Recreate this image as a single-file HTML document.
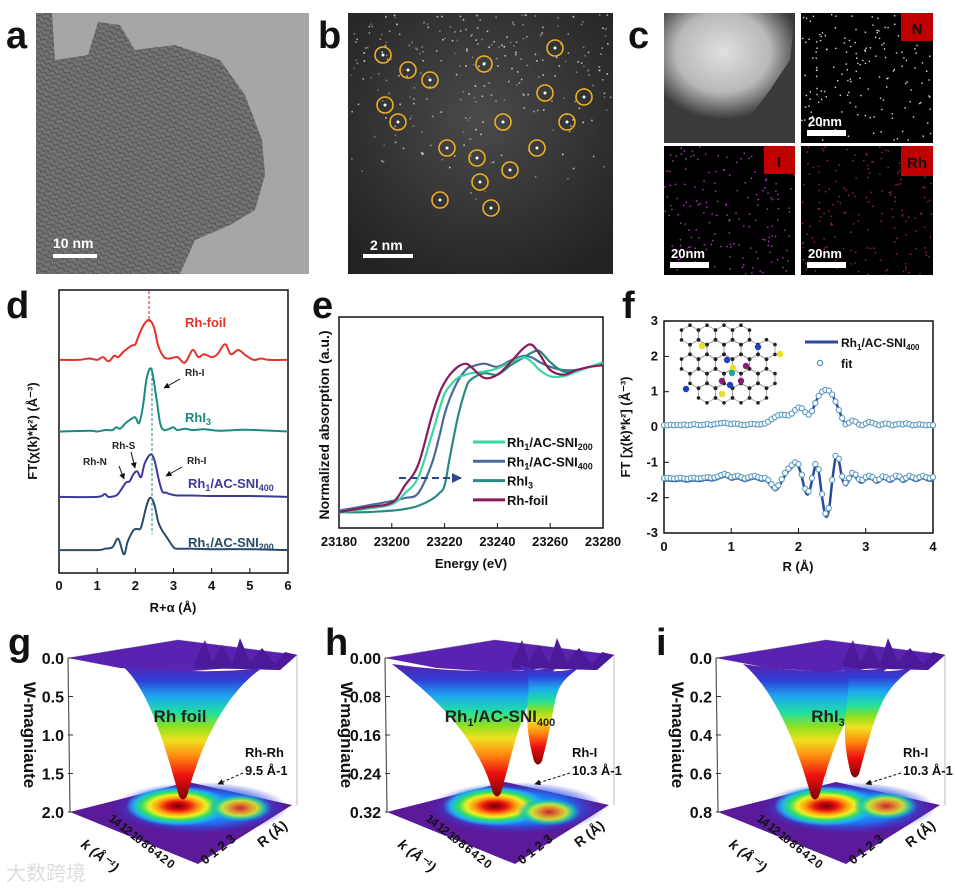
<!DOCTYPE html>
<html><head><meta charset="utf-8"><style>
html,body{margin:0;padding:0;background:#fff;}
svg{display:block;font-family:"Liberation Sans",Arial,sans-serif;}
.lbl{font-weight:bold;font-size:38px;fill:#111;}
.tk{font-weight:bold;font-size:13px;fill:#111;}
.ax{font-weight:bold;font-size:13px;fill:#111;}
</style></head><body>
<svg id="fig" width="955" height="891" viewBox="0 0 955 891" xmlns="http://www.w3.org/2000/svg">
<defs>
<radialGradient id="bgB" cx="0.5" cy="0.4" r="0.7"><stop offset="0" stop-color="#4a4a4a"/><stop offset="0.7" stop-color="#2e2e2e"/><stop offset="1" stop-color="#222"/></radialGradient>
<radialGradient id="bgC" cx="0.45" cy="0.35" r="0.6"><stop offset="0" stop-color="#e0e0e0"/><stop offset="0.6" stop-color="#b8b8b8"/><stop offset="1" stop-color="#3a3a3a"/></radialGradient>
<pattern id="tex" width="7" height="5" patternUnits="userSpaceOnUse" patternTransform="rotate(25)"><path d="M0 2.5 Q1.75 0.5 3.5 2.5 T7 2.5" stroke="#3a3a3a" stroke-width="1.1" fill="none"/></pattern>
<pattern id="tex2" width="9" height="6" patternUnits="userSpaceOnUse" patternTransform="rotate(-40)"><path d="M0 3 Q2.25 1 4.5 3 T9 3" stroke="#555" stroke-width="0.9" fill="none"/></pattern>
<marker id="arr" viewBox="0 0 10 10" refX="9" refY="5" markerWidth="6" markerHeight="6" orient="auto"><path d="M0 0 L10 5 L0 10 z" fill="#111"/></marker>
<marker id="arrB" viewBox="0 0 10 10" refX="9" refY="5" markerWidth="5" markerHeight="5" orient="auto"><path d="M0 0 L10 5 L0 10 z" fill="#2a4a8a"/></marker>
<radialGradient id="floorC" cx="0.5" cy="0.5" r="0.5">
<stop offset="0" stop-color="#6a0000"/><stop offset="0.22" stop-color="#e81010"/><stop offset="0.4" stop-color="#ff9a10"/><stop offset="0.55" stop-color="#f0f020"/><stop offset="0.7" stop-color="#30e060"/><stop offset="0.85" stop-color="#20b0f0"/><stop offset="1" stop-color="#20b0f0" stop-opacity="0"/></radialGradient>
<radialGradient id="floorS" cx="0.5" cy="0.5" r="0.5">
<stop offset="0" stop-color="#e81010"/><stop offset="0.35" stop-color="#ffa010"/><stop offset="0.55" stop-color="#e0f020"/><stop offset="0.75" stop-color="#20d0a0"/><stop offset="1" stop-color="#2090f0" stop-opacity="0"/></radialGradient>
<radialGradient id="floorB" cx="0.5" cy="0.5" r="0.5">
<stop offset="0" stop-color="#20c8f0"/><stop offset="0.6" stop-color="#2070f0"/><stop offset="1" stop-color="#3a30d0" stop-opacity="0"/></radialGradient>
</defs>

<!-- Panel a -->
<g>
<rect x="36" y="13" width="273" height="261" fill="#a6a6a6"/>
<path d="M36 13 L52 13 L55 60 L88 55 L98 22 L120 25 L135 50 L175 45 L220 60 L245 95 L262 140 L265 175 L255 210 L230 225 L195 240 L180 274 L36 274 Z" fill="#747474"/>
<path d="M36 13 L52 13 L55 60 L88 55 L98 22 L120 25 L135 50 L175 45 L220 60 L245 95 L262 140 L265 175 L255 210 L230 225 L195 240 L180 274 L36 274 Z" fill="url(#tex)" opacity="0.55"/>
<path d="M36 13 L52 13 L55 60 L88 55 L98 22 L120 25 L135 50 L175 45 L220 60 L245 95 L262 140 L265 175 L255 210 L230 225 L195 240 L180 274 L36 274 Z" fill="url(#tex2)" opacity="0.45"/>
<text x="6" y="48" class="lbl">a</text>
<text x="53" y="248" font-size="14" font-weight="bold" fill="#fff">10 nm</text>
<rect x="53" y="254" width="44" height="4" fill="#fff"/>
</g>

<!-- Panel b -->
<g>
<rect x="348" y="13" width="265" height="261" fill="url(#bgB)"/>
<g id="bspeck"></g>
<g id="bcircles" fill="none" stroke="#f0b020" stroke-width="1.6"></g>
<text x="318" y="48" class="lbl">b</text>
<text x="370" y="250" font-size="14" font-weight="bold" fill="#fff">2 nm</text>
<rect x="363" y="254" width="50" height="4" fill="#fff"/>
</g>

<!-- Panel c -->
<g>
<rect x="664" y="13" width="131" height="130" fill="#3a3a3a"/>
<path d="M664 13 L795 13 L790 60 L770 90 L755 110 L735 125 L700 120 L664 110 Z" fill="url(#bgC)"/>
<rect x="801" y="13" width="132" height="130" fill="#000"/>
<rect x="664" y="146" width="131" height="129" fill="#000"/>
<rect x="801" y="146" width="132" height="129" fill="#000"/>
<g id="cdots"></g>
<rect x="901" y="13" width="32" height="28" fill="#c00000"/>
<text x="917" y="34" text-anchor="middle" font-size="15" font-weight="bold" fill="#111">N</text>
<rect x="764" y="146" width="31" height="28" fill="#c00000"/>
<text x="779" y="167" text-anchor="middle" font-size="15" font-weight="bold" fill="#111">I</text>
<rect x="901" y="146" width="32" height="30" fill="#c00000"/>
<text x="917" y="168" text-anchor="middle" font-size="15" font-weight="bold" fill="#111">Rh</text>
<text x="808" y="126" font-size="13" font-weight="bold" fill="#fff">20nm</text><rect x="807" y="130" width="39" height="6" fill="#fff"/>
<text x="671" y="258" font-size="13" font-weight="bold" fill="#fff">20nm</text><rect x="670" y="262" width="39" height="6" fill="#fff"/>
<text x="808" y="258" font-size="13" font-weight="bold" fill="#fff">20nm</text><rect x="807" y="262" width="39" height="6" fill="#fff"/>
<text x="628" y="48" class="lbl">c</text>
</g>

<!-- Panel d -->
<g id="panelD">
<text x="6" y="318" class="lbl">d</text>
<rect x="59" y="290" width="229" height="283" fill="none" stroke="#111" stroke-width="1.5"/>
<text x="173" y="612" text-anchor="middle" class="ax">R+α (Å)</text>
<text transform="translate(37,431) rotate(-90)" text-anchor="middle" class="ax">FT(χ(k)*k²) (Å⁻³)</text>
<g id="dTicks"></g><g id="dLines"></g>
<line x1="149" y1="291" x2="149" y2="322" stroke="#d02020" stroke-dasharray="3,2"/>
<line x1="152" y1="368" x2="152" y2="534" stroke="#1a8a80" stroke-dasharray="3,2"/>
<text x="185" y="327" font-size="13" font-weight="bold" fill="#e8302a">Rh-foil</text>
<text x="185" y="376" font-size="10" font-weight="bold" fill="#222">Rh-I</text>
<line x1="180" y1="379" x2="164" y2="388" stroke="#111" marker-end="url(#arr)"/>
<text x="185" y="422" font-size="13" font-weight="bold" fill="#1a8a80">RhI<tspan font-size="9" dy="3">3</tspan></text>
<text x="83" y="465" font-size="10" font-weight="bold" fill="#222">Rh-N</text>
<line x1="119" y1="466" x2="124" y2="479" stroke="#111" marker-end="url(#arr)"/>
<text x="112" y="449" font-size="10" font-weight="bold" fill="#222">Rh-S</text>
<line x1="131" y1="452" x2="135" y2="468" stroke="#111" marker-end="url(#arr)"/>
<text x="187" y="464" font-size="10" font-weight="bold" fill="#222">Rh-I</text>
<line x1="182" y1="467" x2="166" y2="476" stroke="#111" marker-end="url(#arr)"/>
<text x="188" y="488" font-size="13" font-weight="bold" fill="#3a3a9a">Rh<tspan font-size="9" dy="3">1</tspan><tspan dy="-3">/AC-SNI</tspan><tspan font-size="9" dy="3">400</tspan></text>
<text x="188" y="547" font-size="13" font-weight="bold" fill="#2a4a6a">Rh<tspan font-size="9" dy="3">1</tspan><tspan dy="-3">/AC-SNI</tspan><tspan font-size="9" dy="3">200</tspan></text>
</g>

<!-- Panel e -->
<g id="panelE">
<text x="312" y="318" class="lbl">e</text>
<rect x="339" y="317" width="264" height="211" fill="none" stroke="#111" stroke-width="1.5"/>
<text x="471" y="568" text-anchor="middle" class="ax">Energy (eV)</text>
<text transform="translate(329,425) rotate(-90)" text-anchor="middle" font-size="14" font-weight="bold" fill="#111">Normalized absorption (a.u.)</text>
<g id="eTicks"></g><g id="eLines"></g>
<line x1="399" y1="478" x2="461" y2="478" stroke="#2a4a8a" stroke-width="2" stroke-dasharray="7,4" marker-end="url(#arrB)"/>
<g id="eLegend"></g>
</g>

<!-- Panel f -->
<g id="panelF">
<text x="622" y="318" class="lbl">f</text>
<rect x="664" y="321" width="269" height="212" fill="none" stroke="#111" stroke-width="1.5"/>
<text x="798" y="571" text-anchor="middle" class="ax">R (Å)</text>
<text transform="translate(630,427) rotate(-90)" text-anchor="middle" class="ax">FT [χ(k)*k²] (Å⁻³)</text>
<g id="fInset"></g>
<g id="fTicks"></g><g id="fLines"></g>
<line x1="805" y1="342" x2="838" y2="342" stroke="#2a4a9a" stroke-width="3"/>
<text x="841" y="347" font-size="12" font-weight="bold" fill="#111">Rh<tspan font-size="8" dy="3">1</tspan><tspan dy="-3">/AC-SNI</tspan><tspan font-size="8" dy="3">400</tspan></text>
<circle cx="820" cy="363" r="2.6" fill="#fff" stroke="#4a90b8" stroke-width="1.2"/>
<text x="841" y="368" font-size="12" font-weight="bold" fill="#111">fit</text>
</g>

<g id="wavelets"></g>
<text x="6" y="880" font-size="20" fill="#ddd">大数跨境</text>
</svg>

<script>
// ---------- Panel d data ----------
const dR_foil = [0,0.5,0.8,1.0,1.15,1.3,1.45,1.55,1.7,1.9,2.0,2.1,2.25,2.38,2.5,2.6,2.75,2.9,3.1,3.3,3.5,3.65,3.8,4.0,4.15,4.35,4.5,4.7,4.9,5.1,5.3,5.5,6.0];
const dV_foil = [0,0,0.05,0,0.1,-0.05,0.15,0.1,0.3,0.5,0.55,0.9,1.3,1.4,1.1,0.5,0.1,0.05,0.1,-0.1,0.35,0.1,0.2,0.1,0.2,0.55,0.2,0.35,0.15,0,0.05,0,0];
const dR_rhi3 = [0,0.8,1.0,1.2,1.4,1.5,1.6,1.75,1.9,2.0,2.1,2.2,2.3,2.42,2.55,2.65,2.75,2.9,3.0,3.1,3.3,3.5,3.8,4.2,4.8,5.2,6.0];
const dV_rhi3 = [0,0.03,0,0.05,0.05,0.15,0.1,0.3,0.45,0.5,0.3,0.9,1.9,2.2,1.2,0.3,0.05,0.1,0.15,0.05,0.1,0.05,0.08,0.03,0.06,0.05,0];
const dR_400 = [0,1.0,1.2,1.3,1.5,1.6,1.75,1.85,1.95,2.05,2.15,2.25,2.4,2.5,2.6,2.7,2.8,2.9,3.1,3.5,4,5,6];
const dV_400 = [0,0,0.1,0,0.05,0.2,0.5,0.55,0.8,0.9,0.7,1.2,1.5,1.3,0.7,0.2,0.15,0.1,0.05,0.05,0.03,0.03,0];
const dR_200 = [0,1.0,1.2,1.4,1.55,1.7,1.8,1.95,2.05,2.15,2.3,2.4,2.5,2.6,2.7,2.85,3.0,3.1,3.5,4,5,6];
const dV_200 = [0,0,0.05,0.1,0.4,-0.15,0.3,0.7,0.75,0.8,1.6,1.85,1.6,1.0,0.7,0.4,0.1,0.05,0.05,0.03,0.03,0];
const dOffsets = [7.53,5.0,2.69,0.81];
const dTickLabels = [0,1,2,3,4,5,6];

// ---------- Panel e data ----------
const eEnergy = [23180,23190,23200,23205,23210,23215,23218,23220,23222,23225,23228,23230,23235,23240,23245,23250,23253,23256,23260,23265,23270,23275,23280];
const eFoil = [0.10,0.13,0.16,0.27,0.40,0.70,0.85,0.92,0.97,1.02,1.04,1.02,0.95,0.97,1.05,1.14,1.16,1.10,1.00,0.97,1.00,1.02,1.03];
const eSNI200 = [0.10,0.12,0.15,0.22,0.32,0.58,0.75,0.85,0.90,0.95,0.97,0.98,0.99,1.01,1.05,1.08,1.05,1.00,0.96,0.96,0.99,1.02,1.05];
const eSNI400 = [0.11,0.14,0.17,0.19,0.22,0.40,0.58,0.72,0.82,0.93,1.00,1.02,1.04,1.02,1.06,1.09,1.08,1.05,1.02,1.00,1.00,1.02,1.04];
const eRhI3 = [0.10,0.10,0.11,0.12,0.14,0.18,0.22,0.27,0.45,0.70,0.88,0.94,0.98,0.97,1.03,1.08,1.11,1.12,1.05,0.99,1.00,1.02,1.04];
const eTickLabels = [23180,23200,23220,23240,23260,23280];

// ---------- Panel f data ----------
const fR = [0,0.05,0.1,0.15,0.2,0.25,0.3,0.35,0.4,0.45,0.5,0.55,0.6,0.65,0.7,0.75,0.8,0.85,0.9,0.95,1.0,1.05,1.1,1.15,1.2,1.25,1.3,1.35,1.4,1.45,1.5,1.55,1.6,1.65,1.7,1.75,1.8,1.85,1.9,1.95,2.0,2.05,2.1,2.15,2.2,2.25,2.3,2.35,2.4,2.45,2.5,2.55,2.6,2.65,2.7,2.75,2.8,2.85,2.9,2.95,3.0,3.05,3.1,3.15,3.2,3.25,3.3,3.35,3.4,3.45,3.5,3.55,3.6,3.65,3.7,3.75,3.8,3.85,3.9,3.95,4.0];
const fMag = [0.05,0.05,0.06,0.05,0.06,0.05,0.07,0.05,0.06,0.08,0.06,0.05,0.07,0.08,0.06,0.08,0.10,0.11,0.12,0.10,0.08,0.10,0.09,0.06,0.05,0.07,0.09,0.08,0.07,0.08,0.10,0.15,0.22,0.28,0.33,0.35,0.34,0.33,0.38,0.48,0.55,0.53,0.42,0.35,0.45,0.68,0.88,1.0,1.05,1.03,0.92,0.72,0.48,0.25,0.08,0.12,0.18,0.15,0.07,0.05,0.10,0.14,0.12,0.08,0.05,0.08,0.10,0.08,0.05,0.07,0.09,0.07,0.10,0.08,0.05,0.06,0.08,0.06,0.05,0.06,0.05];
const fIm = [-1.45,-1.44,-1.45,-1.46,-1.45,-1.44,-1.46,-1.47,-1.45,-1.44,-1.46,-1.45,-1.43,-1.42,-1.44,-1.43,-1.40,-1.36,-1.33,-1.36,-1.42,-1.40,-1.38,-1.42,-1.46,-1.43,-1.40,-1.38,-1.42,-1.45,-1.44,-1.50,-1.62,-1.72,-1.65,-1.48,-1.30,-1.18,-1.08,-1.00,-1.05,-1.35,-1.75,-1.82,-1.45,-1.05,-1.20,-1.90,-2.45,-2.30,-1.50,-0.82,-0.90,-1.40,-1.58,-1.45,-1.30,-1.35,-1.48,-1.50,-1.42,-1.38,-1.42,-1.50,-1.48,-1.40,-1.42,-1.48,-1.45,-1.38,-1.40,-1.48,-1.44,-1.38,-1.42,-1.46,-1.42,-1.38,-1.42,-1.45,-1.42];
const fDataImShift = [-0.07];
const fYTickLabels = [-3,-2,-1,0,1,2,3];
const fXTickLabels = [0,1,2,3,4];

// ---------- Wavelet panels data ----------
const wPanels = ['g','h','i'];
const wTitles = ['Rh foil','Rh1/AC-SNI400','RhI3'];
const wTicks = [['0.0','0.5','1.0','1.5','2.0'],['0.00','0.08','0.16','0.24','0.32'],['0.0','0.2','0.4','0.6','0.8']];
const wPeakLabels = [['Rh-Rh','9.5 Å-1'],['Rh-I','10.3 Å-1'],['Rh-I','10.3 Å-1']];

const NS='http://www.w3.org/2000/svg';
function mk(tag, attrs, parent){const e=document.createElementNS(NS,tag);for(const k in attrs)e.setAttribute(k,attrs[k]);if(parent)parent.appendChild(e);return e;}
function smooth(pts){let d='M'+pts[0][0].toFixed(1)+' '+pts[0][1].toFixed(1);for(let i=0;i<pts.length-1;i++){const p0=pts[Math.max(0,i-1)],p1=pts[i],p2=pts[i+1],p3=pts[Math.min(pts.length-1,i+2)];const c1x=p1[0]+(p2[0]-p0[0])/6,c1y=p1[1]+(p2[1]-p0[1])/6,c2x=p2[0]-(p3[0]-p1[0])/6,c2y=p2[1]-(p3[1]-p1[1])/6;d+=' C'+c1x.toFixed(1)+' '+c1y.toFixed(1)+' '+c2x.toFixed(1)+' '+c2y.toFixed(1)+' '+p2[0].toFixed(1)+' '+p2[1].toFixed(1);}return d;}

let seed=7;function rnd(){seed=(seed*9301+49297)%233280;return seed/233280;}
// ---- panel b speckles / circles (decorative) ----
const bs=document.getElementById('bspeck');
for(let i=0;i<260;i++){const x=350+rnd()*262,y=14+rnd()*200*(0.3+rnd()*0.7);mk('rect',{x:x,y:y,width:1.6,height:1.6,fill:'#ddd',opacity:0.3+rnd()*0.6},bs);}
const bc=document.getElementById('bcircles');
[[383,55],[408,70],[430,80],[484,64],[555,48],[385,105],[398,122],[503,122],[545,93],[584,97],[567,122],[447,148],[477,158],[510,170],[537,148],[480,182],[440,200],[491,208]].forEach(p=>{const c=mk('circle',{cx:p[0],cy:p[1],r:8},bc);mk('circle',{cx:p[0],cy:p[1],r:1.5,fill:'#fff',stroke:'none'},bc);});
const cd=document.getElementById('cdots');
[[801,13,'#ddd'],[664,146,'#b040c0'],[801,146,'#a03030']].forEach(q=>{for(let i=0;i<170;i++){mk('rect',{x:q[0]+rnd()*130,y:q[1]+rnd()*128,width:1.4,height:1.4,fill:q[2]},cd);}});

// ---- panel d ----
const dx=v=>59+v/6*229, dy=v=>573-v*28.3;
const dT=document.getElementById('dTicks');
dTickLabels.forEach(t=>{mk('line',{x1:dx(t),y1:573,x2:dx(t),y2:568,stroke:'#111'},dT);const tx=mk('text',{x:dx(t),y:590,'text-anchor':'middle',class:'tk'},dT);tx.textContent=t;});
const dL=document.getElementById('dLines');
[[dR_foil,dV_foil,'#e8302a','curve-rh-foil'],[dR_rhi3,dV_rhi3,'#1a8a80','curve-rhi3'],[dR_400,dV_400,'#3a3a9a','curve-sni400'],[dR_200,dV_200,'#2a4a6a','curve-sni200']].forEach((s,i)=>{const pts=s[0].map((r,j)=>[dx(r),dy(dOffsets[i]+s[1][j])]);const p=mk('path',{d:smooth(pts),fill:'none',stroke:s[2],'stroke-width':2},dL);});

// ---- panel e ----
const ex=v=>339+(v-23180)/100*264, ey=v=>528-v*158;
const eT=document.getElementById('eTicks');
eTickLabels.forEach(t=>{mk('line',{x1:ex(t),y1:528,x2:ex(t),y2:523,stroke:'#111'},eT);const tx=mk('text',{x:ex(t),y:546,'text-anchor':'middle',class:'tk'},eT);tx.textContent=t;});
const eL=document.getElementById('eLines');
[[eSNI400,'#4a6a9a','curve-sni400-e'],[eRhI3,'#2a8a80','curve-rhi3-e'],[eSNI200,'#3cd6a0','curve-sni200-e'],[eFoil,'#8b1a5a','curve-rh-foil-e']].forEach(s=>{const pts=eEnergy.map((e,j)=>[ex(e),ey(s[0][j])]);const p=mk('path',{d:smooth(pts),fill:'none',stroke:s[1],'stroke-width':2.2},eL);});
const eG=document.getElementById('eLegend');
[['#3cd6a0','Rh','1','/AC-SNI','200'],['#4a6a9a','Rh','1','/AC-SNI','400'],['#2a8a80','RhI','3','',''],['#8b1a5a','Rh-foil','','','']].forEach((l,i)=>{const y=442+i*19.3;const ln=mk('line',{x1:473,y1:y,x2:505,y2:y,stroke:l[0],'stroke-width':3},eG);const t=mk('text',{x:507,y:y+5,'font-size':13,'font-weight':'bold',fill:'#111'},eG);t.appendChild(document.createTextNode(l[1]));if(l[2]){const s1=mk('tspan',{'font-size':9,dy:3},t);s1.textContent=l[2];}if(l[3]){const s2=mk('tspan',{dy:-3},t);s2.textContent=l[3];const s3=mk('tspan',{'font-size':9,dy:3},t);s3.textContent=l[4];}});

// ---- panel f ----
const fx=v=>664+v/4*269, fy=v=>427-v*35.3;
const fT=document.getElementById('fTicks');
fYTickLabels.forEach(t=>{mk('line',{x1:664,y1:fy(t),x2:669,y2:fy(t),stroke:'#111'},fT);const tx=mk('text',{x:658,y:fy(t)+4,'text-anchor':'end',class:'tk'},fT);tx.textContent=t;});
fXTickLabels.forEach(t=>{mk('line',{x1:fx(t),y1:533,x2:fx(t),y2:528,stroke:'#111'},fT);const tx=mk('text',{x:fx(t),y:551,'text-anchor':'middle',class:'tk'},fT);tx.textContent=t;});
const fL=document.getElementById('fLines');
const lineMag=mk('path',{d:smooth(fR.map((r,j)=>[fx(r),fy(fMag[j])])),fill:'none',stroke:'#2a4a9a','stroke-width':2.5},fL);


const lineIm=mk('path',{d:smooth(fR.map((r,j)=>[fx(r),fy(fIm[j]+fDataImShift[0])])),fill:'none',stroke:'#2a4a9a','stroke-width':2.5},fL);


fR.forEach((r,j)=>{const c1=mk('circle',{cx:fx(r),cy:fy(fMag[j]),r:2.6,fill:'#fff',stroke:'#5a9ac0','stroke-width':1.1},fL);const c2=mk('circle',{cx:fx(r),cy:fy(fIm[j]),r:2.6,fill:'#fff',stroke:'#5a9ac0','stroke-width':1.1},fL);});
// structure inset (decorative)
const fi=document.getElementById('fInset');
const hexes=[];for(let row=0;row<5;row++)for(let col=0;col<5;col++){const cx=690+col*17+(row%2)*8.5,cy=335+row*14.5;if((row===0&&col>3)||(row===4&&col<1))continue;hexes.push([cx,cy]);}
hexes.forEach(h=>{let pts=[];for(let k=0;k<6;k++){const a=Math.PI/6+k*Math.PI/3;pts.push([h[0]+9.8*Math.cos(a),h[1]+9.8*Math.sin(a)]);}mk('polygon',{points:pts.map(p=>p.join(',')).join(' '),fill:'none',stroke:'#999','stroke-width':0.8},fi);pts.forEach(p=>mk('circle',{cx:p[0],cy:p[1],r:1.8,fill:'#222'},fi));});
[[702,346,'#e8e020'],[780,354,'#e8e020'],[722,394,'#e8e020'],[733,368,'#e8e020'],[727,360,'#2040c0'],[686,389,'#2040c0'],[758,347,'#2040c0'],[730,385,'#2040c0'],[722,381,'#8a1a7a'],[741,381,'#8a1a7a'],[746,366,'#8a1a7a'],[732,373,'#20a0a0']].forEach(a=>mk('circle',{cx:a[0],cy:a[1],r:3.2,fill:a[2]},fi));

// ---- wavelet panels ----
const W=document.getElementById('wavelets');
const wOff=[0,317,648];
const funnels=[ // [topLeft, topRight, tipX, tipY] main and optional second
 [[120,262,183,800],null],
 [[75,240,180,797],[200,262,221,765]],
 [[95,240,167,800],[190,265,207,778]]];
const floorSide=[[240,808],[232,812],[238,806]];
wPanels.forEach((p,i)=>{
 const g=mk('g',{transform:'translate('+wOff[i]+',0)'},W);
 
 
 const L=mk('text',{x:8,y:655,class:'lbl'},g);L.textContent=p;
 mk('polyline',{points:'68,658 178,640 297,655 297,805',fill:'none',stroke:'#bbb','stroke-width':1},g);
 mk('line',{x1:178,y1:640,x2:178,y2:782,stroke:'#ccc','stroke-width':1},g);
 mk('line',{x1:68,y1:658,x2:70,y2:812,stroke:'#555','stroke-width':1.2},g);
 const fl=mk('polygon',{points:'70,812 188,782 292,805 198,864',fill:'#5a1a9a'},g);
 mk('ellipse',{cx:200,cy:808,rx:88,ry:26,fill:'url(#floorB)'},g);
 mk('ellipse',{cx:178,cy:806,rx:52,ry:20,fill:'url(#floorC)'},g);
 mk('ellipse',{cx:floorSide[i][0],cy:floorSide[i][1],rx:32,ry:14,fill:'url(#floorS)',opacity:0.85},g);
 const ts=mk('polygon',{points:'68,658 178,640 297,655 280,670 230,668 180,672 120,668',fill:'#5a22b0'},g);
 mk('polyline',{points:'195,662 205,640 212,662 222,645 232,664 240,638 250,662 262,648 275,664 285,652 297,655 280,670 195,668',fill:'#4a1a9a'},g);
 funnels[i].forEach((f,k)=>{if(!f)return;const [l,r,tx,ty]=f;const top=664;
  const gid='fg'+p+k;const lg=mk('linearGradient',{id:gid,x1:0,y1:top,x2:0,y2:ty,gradientUnits:'userSpaceOnUse'},g);
  [['0','#5a1fa8'],['0.12','#2e3fd8'],['0.24','#1ea8f0'],['0.36','#20e0a0'],['0.46','#8ee020'],['0.56','#f0e020'],['0.68','#ff8a10'],['0.82','#f01010'],['1','#7a0000']].forEach(s=>mk('stop',{offset:s[0],'stop-color':s[1]},lg));
  const mid=(l+r)/2;
  const d='M'+l+' '+top+' C'+(l+25)+' '+(top+20)+' '+(tx-22)+' '+(ty-70)+' '+(tx-4)+' '+(ty-4)+' Q'+tx+' '+(ty+3)+' '+(tx+4)+' '+(ty-4)+' C'+(tx+22)+' '+(ty-70)+' '+(r-30)+' '+(top+25)+' '+r+' '+(top+4)+' Q'+mid+' '+(top+12)+' '+l+' '+top+' Z';
  const fp=mk('path',{d:d,fill:'url(#'+gid+')'},g);});
 wTicks[i].forEach((t,j)=>{const y=658+j*38.5;mk('line',{x1:68,y1:y,x2:73,y2:y,stroke:'#333'},g);const tx=mk('text',{x:64,y:y+6,'text-anchor':'end','font-size':16,'font-weight':'bold',fill:'#111'},g);tx.textContent=t;});
 const yt=mk('text',{transform:'translate(24,735) rotate(90)','text-anchor':'middle','font-size':17,'font-weight':'bold',fill:'#111'},g);yt.textContent='W-magniaute';
 const kt=mk('text',{transform:'translate(108,820) rotate(38)','font-size':12,'font-weight':'bold',fill:'#111','letter-spacing':'-1'},g);kt.textContent='14 12 10 8 6 4 2 0';
 const kl=mk('text',{transform:'translate(80,846) rotate(38)','font-size':14,'font-weight':'bold','font-style':'italic',fill:'#111'},g);kl.textContent='k (Å⁻¹)';
 const rt=mk('text',{transform:'translate(205,865) rotate(-38)','font-size':13,'font-weight':'bold',fill:'#111'},g);rt.textContent='0   1   2   3';
 const rl=mk('text',{transform:'translate(262,848) rotate(-38)','font-size':14,'font-weight':'bold',fill:'#111'},g);rl.textContent='R (Å)';
 const tt=mk('text',{x:i===1?183:180,y:722,'text-anchor':'middle','font-size':17,'font-weight':'bold',fill:'#222'},g);
 if(i===1){tt.appendChild(document.createTextNode('Rh'));const a=mk('tspan',{'font-size':11,dy:4},tt);a.textContent='1';const b=mk('tspan',{dy:-4},tt);b.textContent='/AC-SNI';const c=mk('tspan',{'font-size':11,dy:4},tt);c.textContent='400';}
 else if(i===2){tt.appendChild(document.createTextNode('RhI'));const a=mk('tspan',{'font-size':11,dy:4},tt);a.textContent='3';}
 else tt.textContent=wTitles[i];
 const p1=mk('text',{x:i===0?245:255,y:757,'font-size':13,'font-weight':'bold',fill:'#111'},g);p1.textContent=wPeakLabels[i][0];
 const p2=mk('text',{x:i===0?245:255,y:775,'font-size':13,'font-weight':'bold',fill:'#111'},g);p2.textContent=wPeakLabels[i][1];
 mk('line',{x1:i===0?243:253,y1:773,x2:218,y2:784,stroke:'#111','stroke-dasharray':'3,2','marker-end':'url(#arr)'},g);
});
</script>
</body></html>
